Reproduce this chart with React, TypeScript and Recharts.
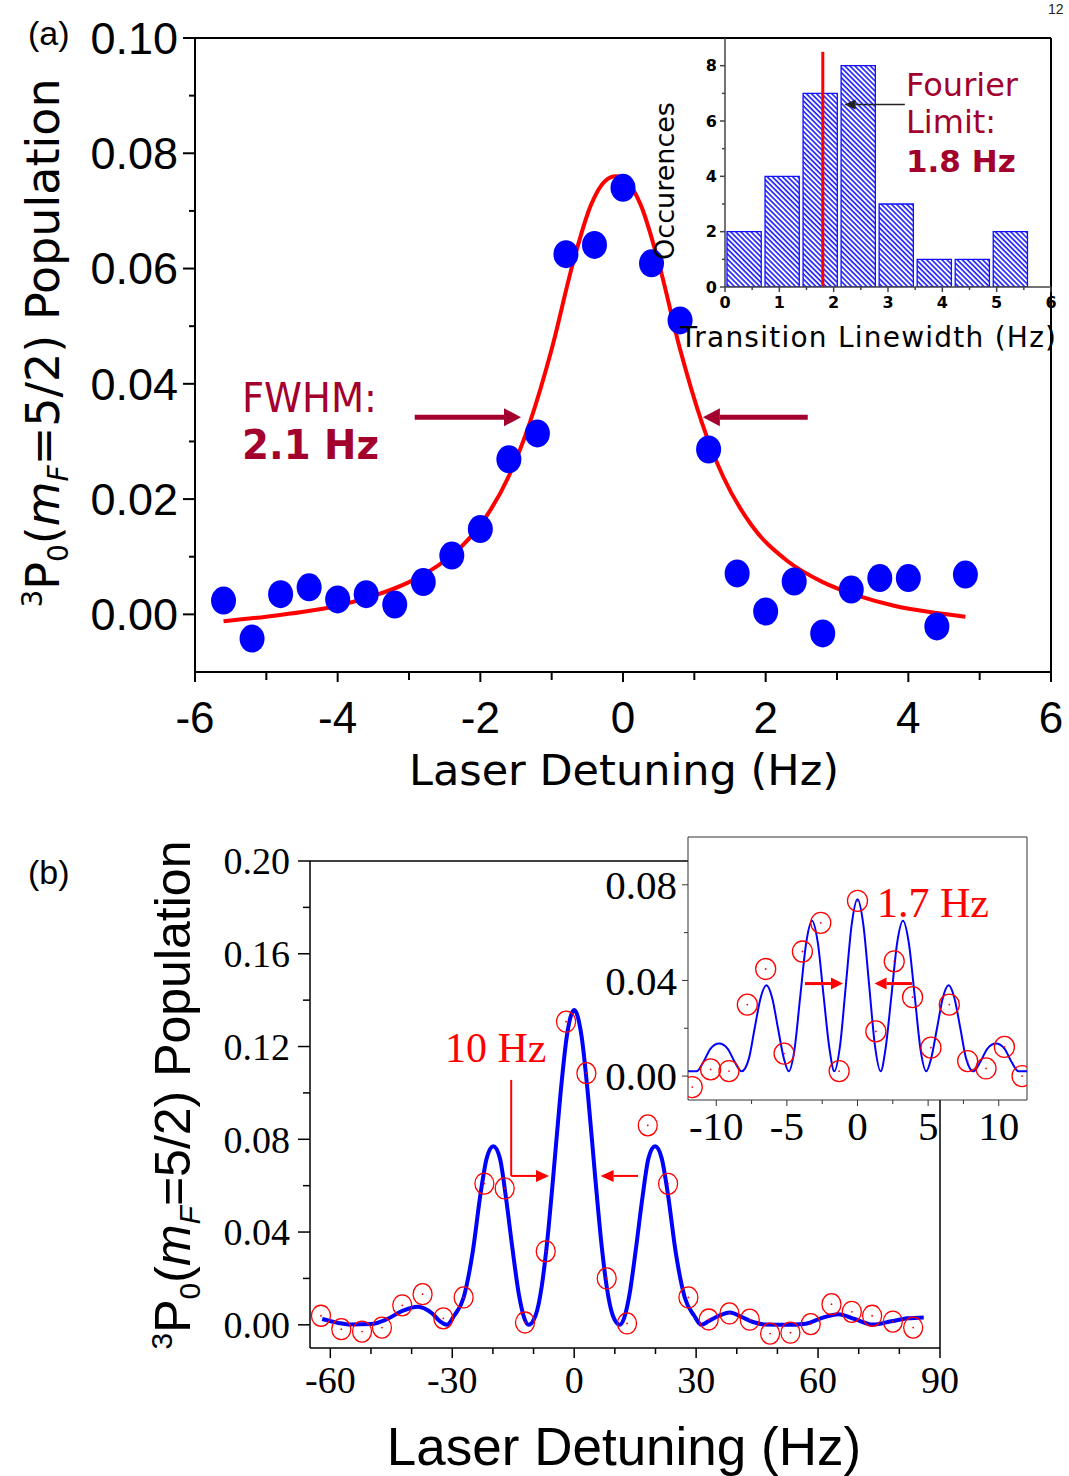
import React from "react";
import {
  ComposedChart,
  XAxis,
  YAxis,
  Line,
  Scatter,
  Bar,
  ReferenceLine,
} from "recharts";

// ---- panel (a): single scan with Lorentzian fit ----
const detuningA = [
  -5.6, -5.2, -4.8, -4.4, -4.0, -3.6, -3.2, -2.8, -2.4, -2.0, -1.6, -1.2, -0.8, -0.4,
  0, 0.4, 0.8, 1.2, 1.6, 2.0, 2.4, 2.8, 3.2, 3.6, 4.0, 4.4, 4.8,
];
const populationA = [
  0.0024, -0.0042, 0.0035, 0.0047, 0.0026, 0.0035, 0.0017, 0.0056, 0.0102, 0.0148, 0.0269,
  0.0314, 0.0625, 0.0641, 0.074, 0.0609, 0.051, 0.0286, 0.0071, 0.0005, 0.0057, -0.0033,
  0.0043, 0.0063, 0.0063, -0.0021, 0.0069,
];
const fitDetuningA = [
  -5.6, -5.0, -4.5, -4.0, -3.5, -3.0, -2.5, -2.0, -1.6, -1.3, -1.0, -0.7, -0.45, -0.25, -0.1,
  0.05, 0.25, 0.5, 0.8, 1.1, 1.4, 1.8, 2.3, 2.8, 3.3, 3.8, 4.3, 4.8,
];
const fitPopulationA = [
  -0.0012, -0.0004, 0.0004, 0.0015, 0.0032, 0.0056, 0.0093, 0.0155, 0.024, 0.0335, 0.046,
  0.061, 0.071, 0.0752, 0.076, 0.0752, 0.071, 0.061, 0.046, 0.0335, 0.024, 0.0155, 0.0093,
  0.0056, 0.0032, 0.0015, 0.0004, -0.0004,
];
const ticksXA = [-6, -5, -4, -3, -2, -1, 0, 1, 2, 3, 4, 5, 6];
const majorsXA = [-6, -4, -2, 0, 2, 4, 6];
const ticksYA = [0, 0.01, 0.02, 0.03, 0.04, 0.05, 0.06, 0.07, 0.08, 0.09, 0.1];
const majorsYA = [0, 0.02, 0.04, 0.06, 0.08, 0.1];

// FWHM markers
const FWHM_Y = 0.0342;
const fwhmLeft = [-2.92, -1.43];
const fwhmRight = [2.59, 1.12];

// ---- panel (a) inset: linewidth histogram ----
const binStarts = [0, 0.7, 1.4, 2.1, 2.8, 3.5, 4.2, 4.9];
const BIN_WIDTH = 0.7;
const binCounts = [2, 4, 7, 8, 3, 1, 1, 2];
const FOURIER_LIMIT = 1.8;
const LIMIT_TOP = 8.5;
const limitArrow = { from: 3.31, to: 2.2, y: 6.6 };
const ticksXH = [0, 0.5, 1, 1.5, 2, 2.5, 3, 3.5, 4, 4.5, 5, 5.5, 6];
const majorsXH = [0, 1, 2, 3, 4, 5, 6];
const ticksYH = [0, 1, 2, 3, 4, 5, 6, 7, 8];
const majorsYH = [0, 2, 4, 6, 8];

// ---- panel (b): Rabi-type scan ----
const detuningB = [
  -62.3, -57.3, -52.2, -47.3, -42.3, -37.3, -32.2, -27.2, -22.1, -17.1, -12.1, -7.0, -2.0,
  3.0, 8.0, 13.0, 18.1, 23.1, 28.1, 33.1, 38.2, 43.2, 48.2, 53.2, 58.2, 63.3, 68.3, 73.3,
  78.4, 83.4,
];
const populationB = [
  0.0039, -0.0019, -0.0029, -0.0012, 0.0084, 0.0132, 0.0028, 0.0118, 0.0609, 0.0588, 0.001,
  0.0317, 0.1307, 0.1085, 0.02, 0.0006, 0.086, 0.0608, 0.0118, 0.0023, 0.0049, 0.0022,
  -0.0038, -0.0034, 0.0003, 0.0089, 0.0056, 0.0039, 0.0014, -0.0012,
];
const fitDetuningB = [
  -62, -58, -55, -50, -46, -42, -38.5, -35, -33, -31.3, -29.5, -27.2, -25, -23, -21.5, -19.9,
  -18.3, -16.8, -15.2, -13.6, -12.3, -11.2, -9.5, -8, -6.8, -5.2, -3.4, -1.8, 0, 1.8, 3.4,
  5.2, 6.8, 8, 9.5, 11.2, 12.3, 13.6, 15.2, 16.8, 18.3, 19.9, 21.5, 23, 25, 27.2, 29.5, 31.3,
  33, 35.5, 38.3, 41, 44, 47, 52, 57, 61, 65, 69, 73.5, 78, 82, 86,
];
const fitPopulationB = [
  0.0025, 0.0008, 0.0001, 0.0003, 0.0025, 0.0062, 0.0078, 0.005, 0.0015, 0, 0.004, 0.0118,
  0.031, 0.057, 0.072, 0.077, 0.072, 0.055, 0.033, 0.013, 0.003, 0, 0.004, 0.0164, 0.0333,
  0.063, 0.099, 0.1246, 0.1357, 0.1246, 0.099, 0.063, 0.0333, 0.0164, 0.004, 0, 0.003,
  0.013, 0.033, 0.055, 0.072, 0.077, 0.072, 0.057, 0.031, 0.0118, 0.004, 0, 0.0015, 0.0038,
  0.0053, 0.0035, 0.0012, 0.0001, 0, 0.0005, 0.003, 0.0046, 0.0025, 0.0001, 0.0015, 0.0028,
  0.0032,
];
const ticksXB = [-60, -50, -40, -30, -20, -10, 0, 10, 20, 30, 40, 50, 60, 70, 80, 90];
const majorsXB = [-60, -30, 0, 30, 60, 90];
const ticksYB = [0, 0.02, 0.04, 0.06, 0.08, 0.1, 0.12, 0.14, 0.16, 0.18, 0.2];
const majorsYB = [0, 0.04, 0.08, 0.12, 0.16, 0.2];
const bracketB = { x: -15.5, top: 0.1056, y: 0.0642, leftTip: -6.2, rightFrom: 15.7, rightTip: 6.5 };

// ---- panel (b) inset: Ramsey-type fringes ----
const detuningC = [
  -11.7, -10.4, -9.1, -7.8, -6.5, -5.2, -3.9, -2.6, -1.3, 0, 1.3, 2.6, 3.9, 5.2, 6.5, 7.8, 9.1,
  10.4, 11.65,
];
const populationC = [
  -0.0046, 0.0028, 0.0021, 0.0299, 0.0448, 0.0094, 0.0521, 0.0641, 0.0021, 0.0733, 0.0187,
  0.048, 0.033, 0.0119, 0.0299, 0.0063, 0.0032, 0.0122, 0,
];
const fitDetuningC = [
  -12, -11.4, -10.9, -10.4, -9.8, -9.2, -8.7, -8.2, -7.69, -7.28, -6.86, -6.45, -6.04, -5.63,
  -5.21, -4.87, -4.46, -4.05, -3.63, -3.22, -2.81, -2.4, -1.98, -1.64, -1.24, -0.825, -0.41, 0,
  0.41, 0.825, 1.24, 1.64, 1.98, 2.4, 2.81, 3.22, 3.63, 4.05, 4.46, 4.87, 5.21, 5.63, 6.04,
  6.45, 6.86, 7.28, 7.69, 8.2, 8.7, 9.2, 9.8, 10.4, 10.9, 11.4, 12,
];
const fitPopulationC = [
  0.002, 0.002, 0.006, 0.0115, 0.0136, 0.0115, 0.006, 0.002, 0.0073, 0.02, 0.0327, 0.038,
  0.0327, 0.02, 0.0073, 0.002, 0.0112, 0.0335, 0.0558, 0.065, 0.0558, 0.0335, 0.0112, 0.002,
  0.0125, 0.038, 0.0635, 0.074, 0.0635, 0.038, 0.0125, 0.002, 0.0112, 0.0335, 0.0558, 0.065,
  0.0558, 0.0335, 0.0112, 0.002, 0.0073, 0.02, 0.0327, 0.038, 0.0327, 0.02, 0.0073, 0.002,
  0.006, 0.0115, 0.0136, 0.0115, 0.006, 0.002, 0.002,
];
const ticksXC = [-10, -7.5, -5, -2.5, 0, 2.5, 5, 7.5, 10];
const majorsXC = [-10, -5, 0, 5, 10];
const ticksYC = [0, 0.02, 0.04, 0.06, 0.08];
const majorsYC = [0, 0.04, 0.08];
const ARROW_C_Y = 0.0387;
const arrowsC = [
  [-3.72, -1.03],
  [3.86, 1.21],
];

const toXY = (xs: number[], ys: number[]) => xs.map((x, i) => ({ x, y: ys[i] }));

const pointsA = toXY(detuningA, populationA);
const fitA = toXY(fitDetuningA, fitPopulationA);
const histData = binStarts.map((s, i) => ({ x: s + BIN_WIDTH / 2, y: binCounts[i] }));
const pointsB = toXY(detuningB, populationB);
const fitB = toXY(fitDetuningB, fitPopulationB);
const pointsC = toXY(detuningC, populationC);
const fitC = toXY(fitDetuningC, fitPopulationC);

const SANS = "'Liberation Sans', Arial, sans-serif";
const VERDANA = "'DejaVu Sans', Verdana, sans-serif";
const SERIF = "'Liberation Serif', 'Times New Roman', serif";
const DARK_RED = "#a3002e";

type TickStyle = {
  axis: number;
  majors: number[];
  majorLen: number;
  minorLen: number;
  gap: number;
  font: string;
  size: number;
  weight?: number;
  stroke: string;
  strokeWidth: number;
  format: (v: number) => string;
};

const isMajor = (list: number[], v: number) => list.some((m) => Math.abs(m - v) < 1e-9);

// y ticks pointing out to the left, labels only on majors
const leftTick = (s: TickStyle) => (p: any) => {
  const v = p.payload.value;
  const y = p.y;
  const major = isMajor(s.majors, v);
  return (
    <g>
      <line
        x1={s.axis}
        x2={s.axis - (major ? s.majorLen : s.minorLen)}
        y1={y}
        y2={y}
        stroke={s.stroke}
        strokeWidth={s.strokeWidth}
      />
      {major && (
        <text
          x={s.axis - s.majorLen - s.gap}
          y={y + s.size * 0.35}
          textAnchor="end"
          fontFamily={s.font}
          fontSize={s.size}
          fontWeight={s.weight}
          fill="#000"
        >
          {s.format(v)}
        </text>
      )}
    </g>
  );
};

// x ticks pointing down, label baseline at a fixed distance under the axis
const bottomTick = (s: TickStyle) => (p: any) => {
  const v = p.payload.value;
  const x = p.x;
  const major = isMajor(s.majors, v);
  return (
    <g>
      <line
        x1={x}
        x2={x}
        y1={s.axis}
        y2={s.axis + (major ? s.majorLen : s.minorLen)}
        stroke={s.stroke}
        strokeWidth={s.strokeWidth}
      />
      {major && (
        <text
          x={x}
          y={s.axis + s.gap}
          textAnchor="middle"
          fontFamily={s.font}
          fontSize={s.size}
          fontWeight={s.weight}
          fill="#000"
        >
          {s.format(v)}
        </text>
      )}
    </g>
  );
};

const arrowShape =
  (color: string, width: number, head: number, half: number, withHead = true) =>
  (p: any) => {
    const { x1, y1, x2, y2 } = p;
    const dx = x2 - x1;
    const dy = y2 - y1;
    const len = Math.hypot(dx, dy) || 1;
    const ux = dx / len;
    const uy = dy / len;
    const bx = x2 - ux * head;
    const by = y2 - uy * head;
    return (
      <g>
        <line
          x1={x1}
          y1={y1}
          x2={withHead ? bx : x2}
          y2={withHead ? by : y2}
          stroke={color}
          strokeWidth={width}
        />
        {withHead && (
          <polygon
            points={`${x2},${y2} ${bx - uy * half},${by + ux * half} ${bx + uy * half},${by - ux * half}`}
            fill={color}
          />
        )}
      </g>
    );
  };

const blueDot = (p: any) => <ellipse cx={p.cx} cy={p.cy} rx={12.5} ry={14} fill="#0000ff" />;

const hollowRed = (rx: number, ry: number) => (p: any) =>
  (
    <g>
      <ellipse cx={p.cx} cy={p.cy} rx={rx} ry={ry} fill="none" stroke="#ff0000" strokeWidth={1.3} />
      <circle cx={p.cx} cy={p.cy} r={0.9} fill="#ff0000" />
    </g>
  );

function HatchDefs() {
  return (
    <svg width={0} height={0} style={{ position: "absolute" }}>
      <defs>
        <pattern
          id="hatchBlue"
          patternUnits="userSpaceOnUse"
          width={3.6}
          height={3.6}
          patternTransform="rotate(-45)"
        >
          <rect width={3.6} height={3.6} fill="#ffffff" />
          <line x1={1} y1={0} x2={1} y2={3.6} stroke="#0a0aff" strokeWidth={1.5} />
        </pattern>
      </defs>
    </svg>
  );
}

function ScanChartA() {
  return (
    <ComposedChart width={1069} height={800} margin={{ top: 38, right: 18, bottom: 68, left: 95 }}>
      <XAxis
        type="number"
        dataKey="x"
        domain={[-6, 6]}
        ticks={ticksXA}
        interval={0}
        allowDataOverflow
        height={60}
        axisLine={{ stroke: "#000", strokeWidth: 2 }}
        tickLine={false}
        tick={bottomTick({
          axis: 672,
          majors: majorsXA,
          majorLen: 10,
          minorLen: 8,
          gap: 61,
          font: SANS,
          size: 44,
          stroke: "#000",
          strokeWidth: 2,
          format: (v) => String(v),
        })}
      />
      <YAxis
        type="number"
        dataKey="y"
        domain={[-0.01, 0.1]}
        ticks={ticksYA}
        interval={0}
        allowDataOverflow
        width={100}
        axisLine={{ stroke: "#000", strokeWidth: 2 }}
        tickLine={false}
        tick={leftTick({
          axis: 195,
          majors: majorsYA,
          majorLen: 12,
          minorLen: 6,
          gap: 5,
          font: SANS,
          size: 45,
          stroke: "#000",
          strokeWidth: 2,
          format: (v) => v.toFixed(2),
        })}
      />
      <ReferenceLine y={0.1} stroke="#000" strokeWidth={2} />
      <ReferenceLine x={6} stroke="#000" strokeWidth={2} />
      <Line
        data={fitA}
        dataKey="y"
        type="monotone"
        stroke="#ff0000"
        strokeWidth={4}
        dot={false}
        isAnimationActive={false}
      />
      <Scatter data={pointsA} dataKey="y" shape={blueDot} isAnimationActive={false} />
      <ReferenceLine
        segment={[
          { x: fwhmLeft[0], y: FWHM_Y },
          { x: fwhmLeft[1], y: FWHM_Y },
        ]}
        shape={arrowShape(DARK_RED, 5, 17, 9)}
      />
      <ReferenceLine
        segment={[
          { x: fwhmRight[0], y: FWHM_Y },
          { x: fwhmRight[1], y: FWHM_Y },
        ]}
        shape={arrowShape(DARK_RED, 5, 17, 9)}
      />
    </ComposedChart>
  );
}

const HIST_PLOT_W = 429 - 55 - 30 - 18;

function HistogramInset() {
  return (
    <ComposedChart
      width={429}
      height={360}
      data={histData}
      margin={{ top: 38, right: 18, bottom: 33, left: 55 }}
      barCategoryGap={0}
      barGap={0}
    >
      <XAxis
        type="number"
        dataKey="x"
        domain={[0, 6]}
        ticks={ticksXH}
        interval={0}
        allowDataOverflow
        height={40}
        axisLine={{ stroke: "#444", strokeWidth: 1.5 }}
        tickLine={false}
        tick={bottomTick({
          axis: 287,
          majors: majorsXH,
          majorLen: 5,
          minorLen: 3,
          gap: 21,
          font: VERDANA,
          size: 16,
          weight: 700,
          stroke: "#444",
          strokeWidth: 1.5,
          format: (v) => String(v),
        })}
      />
      <YAxis
        type="number"
        domain={[0, 9]}
        ticks={ticksYH}
        interval={0}
        allowDataOverflow
        width={30}
        axisLine={{ stroke: "#444", strokeWidth: 1.5 }}
        tickLine={false}
        tick={leftTick({
          axis: 85,
          majors: majorsYH,
          majorLen: 5,
          minorLen: 3,
          gap: 3,
          font: VERDANA,
          size: 16,
          weight: 700,
          stroke: "#444",
          strokeWidth: 1.5,
          format: (v) => String(v),
        })}
      />
      <Bar
        dataKey="y"
        barSize={(BIN_WIDTH * HIST_PLOT_W) / 6}
        fill="url(#hatchBlue)"
        stroke="#1010ff"
        strokeWidth={1.3}
        isAnimationActive={false}
      />
      <ReferenceLine
        segment={[
          { x: FOURIER_LIMIT, y: 0 },
          { x: FOURIER_LIMIT, y: LIMIT_TOP },
        ]}
        stroke="#ff0000"
        strokeWidth={3}
      />
      <ReferenceLine
        segment={[
          { x: limitArrow.from, y: limitArrow.y },
          { x: limitArrow.to, y: limitArrow.y },
        ]}
        shape={arrowShape("#222", 1.5, 11, 5)}
      />
    </ComposedChart>
  );
}

function ScanChartB() {
  return (
    <ComposedChart width={1069} height={676} margin={{ top: 61, right: 129, bottom: 68, left: 210 }}>
      <XAxis
        type="number"
        dataKey="x"
        domain={[-65, 90]}
        ticks={ticksXB}
        interval={0}
        allowDataOverflow
        height={60}
        axisLine={{ stroke: "#000", strokeWidth: 1.5 }}
        tickLine={false}
        tick={bottomTick({
          axis: 548,
          majors: majorsXB,
          majorLen: 10,
          minorLen: 6,
          gap: 45,
          font: SERIF,
          size: 38,
          stroke: "#000",
          strokeWidth: 1.5,
          format: (v) => String(v),
        })}
      />
      <YAxis
        type="number"
        dataKey="y"
        domain={[-0.01, 0.2]}
        ticks={ticksYB}
        interval={0}
        allowDataOverflow
        width={100}
        axisLine={{ stroke: "#000", strokeWidth: 1.5 }}
        tickLine={false}
        tick={leftTick({
          axis: 310,
          majors: majorsYB,
          majorLen: 12,
          minorLen: 7,
          gap: 8,
          font: SERIF,
          size: 38,
          stroke: "#000",
          strokeWidth: 1.5,
          format: (v) => v.toFixed(2),
        })}
      />
      <ReferenceLine y={0.2} stroke="#000" strokeWidth={1.5} />
      <ReferenceLine x={90} stroke="#000" strokeWidth={1.5} />
      <Line
        data={fitB}
        dataKey="y"
        type="monotone"
        stroke="#0000ff"
        strokeWidth={4}
        dot={false}
        isAnimationActive={false}
      />
      <Scatter data={pointsB} dataKey="y" shape={hollowRed(9.5, 10.5)} isAnimationActive={false} />
      <ReferenceLine
        segment={[
          { x: bracketB.x, y: bracketB.top },
          { x: bracketB.x, y: bracketB.y },
        ]}
        shape={arrowShape("#ff0000", 2, 0, 0, false)}
      />
      <ReferenceLine
        segment={[
          { x: bracketB.x, y: bracketB.y },
          { x: bracketB.leftTip, y: bracketB.y },
        ]}
        shape={arrowShape("#ff0000", 2, 13, 6)}
      />
      <ReferenceLine
        segment={[
          { x: bracketB.rightFrom, y: bracketB.y },
          { x: bracketB.rightTip, y: bracketB.y },
        ]}
        shape={arrowShape("#ff0000", 2, 13, 6)}
      />
    </ComposedChart>
  );
}

function ZoomInsetB() {
  return (
    <ComposedChart width={509} height={380} margin={{ top: 37, right: 42, bottom: 40, left: 38 }}>
      <XAxis
        type="number"
        dataKey="x"
        domain={[-12, 12]}
        ticks={ticksXC}
        interval={0}
        allowDataOverflow
        height={40}
        axisLine={{ stroke: "#333", strokeWidth: 1 }}
        tickLine={false}
        tick={bottomTick({
          axis: 300,
          majors: majorsXC,
          majorLen: 6,
          minorLen: 4,
          gap: 40,
          font: SERIF,
          size: 41,
          stroke: "#333",
          strokeWidth: 1,
          format: (v) => String(v),
        })}
      />
      <YAxis
        type="number"
        dataKey="y"
        domain={[-0.01, 0.1]}
        ticks={ticksYC}
        interval={0}
        allowDataOverflow
        width={90}
        axisLine={{ stroke: "#333", strokeWidth: 1 }}
        tickLine={false}
        tick={leftTick({
          axis: 128,
          majors: majorsYC,
          majorLen: 6,
          minorLen: 4,
          gap: 5,
          font: SERIF,
          size: 41,
          stroke: "#333",
          strokeWidth: 1,
          format: (v) => v.toFixed(2),
        })}
      />
      <ReferenceLine y={0.1} stroke="#333" strokeWidth={1} />
      <ReferenceLine x={12} stroke="#333" strokeWidth={1} />
      <Line
        data={fitC}
        dataKey="y"
        type="monotone"
        stroke="#0000ff"
        strokeWidth={2}
        dot={false}
        isAnimationActive={false}
      />
      <Scatter data={pointsC} dataKey="y" shape={hollowRed(10, 10.5)} isAnimationActive={false} />
      {arrowsC.map(([from, to], i) => (
        <ReferenceLine
          key={i}
          segment={[
            { x: from, y: ARROW_C_Y },
            { x: to, y: ARROW_C_Y },
          ]}
          shape={arrowShape("#ff0000", 3, 12, 6)}
        />
      ))}
    </ComposedChart>
  );
}

// axis titles, panel letters and callouts
function Annotations() {
  return (
    <svg
      width={1069}
      height={1476}
      style={{ position: "absolute", left: 0, top: 0, pointerEvents: "none" }}
    >
      <text x={1048} y={14} fontFamily={SANS} fontSize={14} fill="#222">
        12
      </text>
      <text x={28} y={45} fontFamily={SANS} fontSize={34}>
        (a)
      </text>
      <text x={28} y={884} fontFamily={SANS} fontSize={34}>
        (b)
      </text>

      {/* panel (a) */}
      <text transform="rotate(-90 43 343)" x={43} y={343 + 16} textAnchor="middle" fontFamily={VERDANA} fontSize={46}>
        <tspan fontSize={28} dy={-17}>3</tspan>
        <tspan dy={17}>P</tspan>
        <tspan fontSize={28} dy={9}>0</tspan>
        <tspan dy={-9}>(</tspan>
        <tspan fontStyle="italic">m</tspan>
        <tspan fontSize={28} fontStyle="italic" dy={9}>F</tspan>
        <tspan dy={-9}>=5/2) Population</tspan>
      </text>
      <text x={624} y={785} textAnchor="middle" fontFamily={VERDANA} fontSize={43}>
        Laser Detuning (Hz)
      </text>
      <text x={242} y={412} fontFamily={VERDANA} fontSize={40} fill={DARK_RED} textLength={135} lengthAdjust="spacingAndGlyphs">
        FWHM:
      </text>
      <text x={242} y={459} fontFamily={VERDANA} fontSize={40} fontWeight={700} fill={DARK_RED} textLength={137} lengthAdjust="spacingAndGlyphs">
        2.1 Hz
      </text>
      <text x={906} y={96} fontFamily={VERDANA} fontSize={32} fill={DARK_RED}>
        Fourier
      </text>
      <text x={906} y={133} fontFamily={VERDANA} fontSize={32} fill={DARK_RED}>
        Limit:
      </text>
      <text x={906} y={172} fontFamily={VERDANA} fontSize={31} fontWeight={700} fill={DARK_RED}>
        1.8 Hz
      </text>
      <text transform="rotate(-90 664 181)" x={664} y={181 + 10} textAnchor="middle" fontFamily={VERDANA} fontSize={27}>
        Occurences
      </text>
      <text x={868} y={347} textAnchor="middle" fontFamily={VERDANA} fontSize={28} textLength={376} lengthAdjust="spacing">
        Transition Linewidth (Hz)
      </text>

      {/* panel (b) */}
      <text transform="rotate(-90 172 1095)" x={172} y={1095 + 18} textAnchor="middle" fontFamily={SANS} fontSize={50}>
        <tspan fontSize={30} dy={-18}>3</tspan>
        <tspan dy={18}>P</tspan>
        <tspan fontSize={30} dy={10}>0</tspan>
        <tspan dy={-10}>(</tspan>
        <tspan fontStyle="italic">m</tspan>
        <tspan fontSize={30} fontStyle="italic" dy={10}>F</tspan>
        <tspan dy={-10}>=5/2) Population</tspan>
      </text>
      <text x={624} y={1465} textAnchor="middle" fontFamily={SANS} fontSize={53}>
        Laser Detuning (Hz)
      </text>
      <text x={445} y={1062} fontFamily={SERIF} fontSize={42} fill="#ff0000">
        10 Hz
      </text>
      <text x={877} y={917} fontFamily={SERIF} fontSize={42} fill="#ff0000">
        1.7 Hz
      </text>
    </svg>
  );
}

export default function App() {
  return (
    <div
      style={{
        position: "absolute",
        left: 0,
        top: 0,
        width: 1069,
        height: 1476,
        background: "#fff",
        overflow: "hidden",
      }}
    >
      <HatchDefs />
      <div style={{ position: "absolute", left: 0, top: 0 }}>
        <ScanChartA />
      </div>
      <div style={{ position: "absolute", left: 726, top: 39, width: 324, height: 247, background: "#fff" }} />
      <div style={{ position: "absolute", left: 640, top: 0 }}>
        <HistogramInset />
      </div>
      <div style={{ position: "absolute", left: 0, top: 800 }}>
        <ScanChartB />
      </div>
      <div style={{ position: "absolute", left: 688, top: 837, width: 339, height: 263, background: "#fff" }} />
      <div style={{ position: "absolute", left: 560, top: 800 }}>
        <ZoomInsetB />
      </div>
      <Annotations />
    </div>
  );
}
